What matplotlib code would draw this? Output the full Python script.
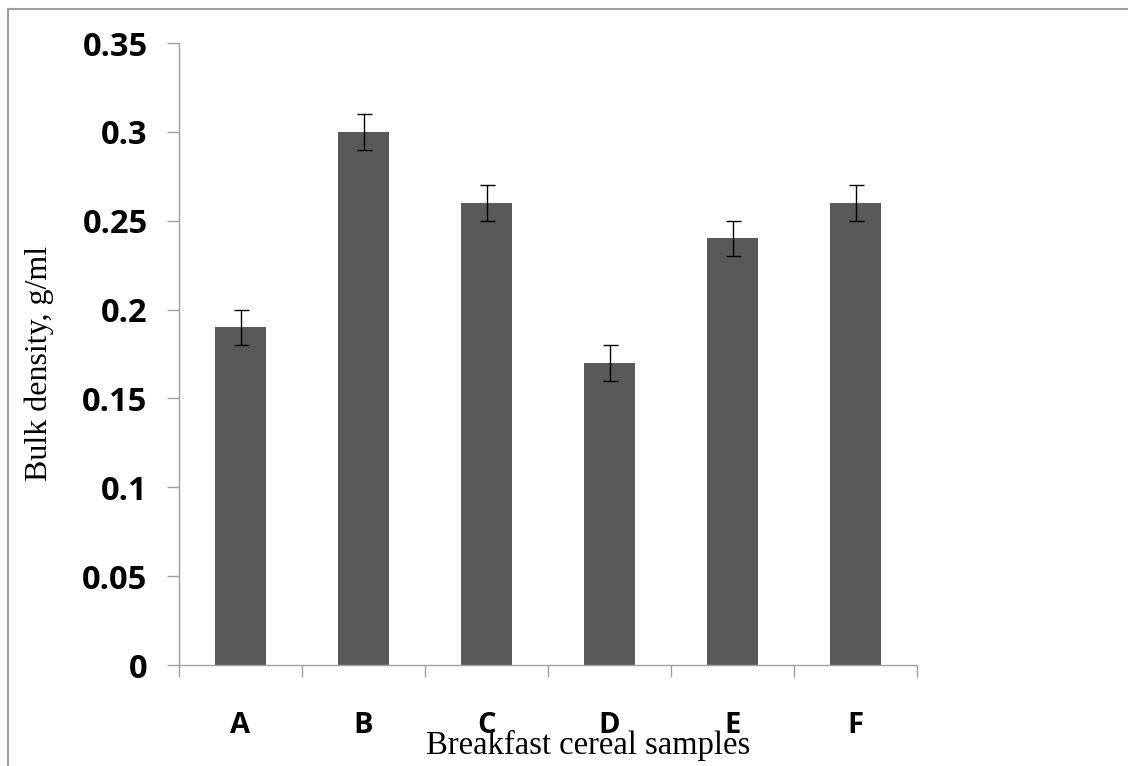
import matplotlib
matplotlib.use("Agg")
import matplotlib.pyplot as plt
from matplotlib.lines import Line2D
import numpy as np

samples = ["A", "B", "C", "D", "E", "F"]
bulk_density = [0.19, 0.30, 0.26, 0.17, 0.24, 0.26]
errors = [0.01, 0.01, 0.01, 0.01, 0.01, 0.01]
yticks = [0, 0.05, 0.1, 0.15, 0.2, 0.25, 0.3, 0.35]
ytick_labels = ["0", "0.05", "0.1", "0.15", "0.2", "0.25", "0.3", "0.35"]

W, H = 1128, 766
fig = plt.figure(figsize=(W / 100, H / 100), dpi=100)
ax = fig.add_axes([179 / W, 1 - 665 / H, (917 - 179) / W, (665 - 43) / H])

grey = "#A0A0A0"
x = np.arange(len(samples))
ax.bar(x, bulk_density, width=0.41, color="#595959", zorder=2)
ax.errorbar(x, bulk_density, yerr=errors, fmt="none", ecolor="black",
            elinewidth=1.0, capsize=5.4, capthick=1.0, zorder=3)

ax.set_xlim(-0.5, len(samples) - 0.5)
ax.set_ylim(0, 0.35)

ax.set_yticks(yticks)
ax.set_yticklabels(ytick_labels, fontdict=dict(family="Open Sans", weight="bold", size=23.5))
ax.set_xticks(x)
ax.set_xticklabels(samples, fontdict=dict(family="Open Sans", weight="bold", size=21))
ax.set_xticks(np.arange(len(samples) + 1) - 0.5, minor=True)

ax.tick_params(axis="y", length=8.6, width=1.0, color=grey, pad=14)
ax.tick_params(axis="x", which="major", length=0, pad=33)
ax.tick_params(axis="x", which="minor", length=8.6, width=1.0, color=grey)

for side in ("top", "right"):
    ax.spines[side].set_visible(False)
for side in ("left", "bottom"):
    ax.spines[side].set_color(grey)
    ax.spines[side].set_linewidth(1.0)

fig.text(39 / W, 1 - 363 / H, "Bulk density, g/ml", rotation=90,
         family="Liberation Serif", size=23, ha="center", va="center")
fig.text(588 / W, 1 - 745 / H, "Breakfast cereal samples",
         family="Liberation Serif", size=23.5, ha="center", va="center")

# outer frame (only left and top edges are visible in the original)
fig.add_artist(Line2D([8 / W, 8 / W], [0, 1 - 9 / H], color=grey, lw=1.5))
fig.add_artist(Line2D([8 / W, 1], [1 - 9 / H, 1 - 9 / H], color=grey, lw=1.5))

fig.savefig("out.png", dpi=100)
